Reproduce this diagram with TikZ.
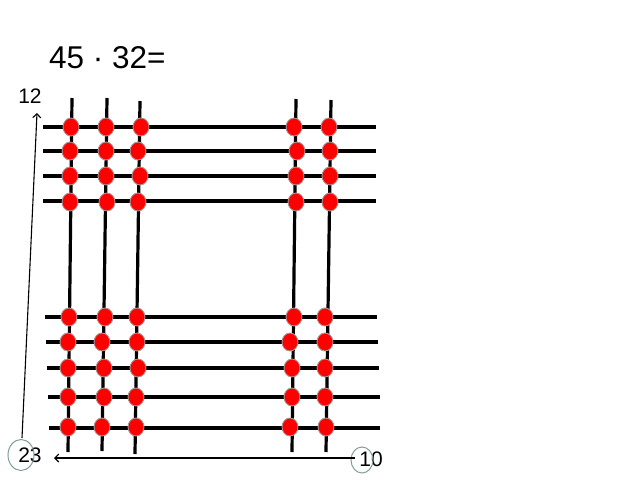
\documentclass[tikz,border=0pt]{standalone}
\usepackage{fontspec}
\setmainfont{Liberation Sans}
\usetikzlibrary{arrows.meta,shapes.geometric}
\definecolor{ringgray}{RGB}{130,155,155}
\definecolor{beadedge}{RGB}{170,150,150}
\begin{document}
\begin{tikzpicture}[x=1pt,y=-1pt,
  rod/.style={line width=3.2pt, black},
  bead/.style={ellipse, fill=red, draw=beadedge, line width=0.9pt, minimum width=16pt, minimum height=18pt, inner sep=0pt},
  axisarrow/.style={line width=1.1pt, -{Straight Barb[length=4pt,width=8pt]}},
  ring/.style={ellipse, draw=ringgray, line width=1pt, inner sep=0pt},
  lbl/.style={font=\fontsize{21}{21}\selectfont, inner sep=0pt}]
\useasboundingbox (0,0) rectangle (640,480);
% title
\node[font=\fontsize{31.5}{31.5}\selectfont, anchor=west, inner sep=0pt] (title) at (49,58) {45 · 32=};
% vertical rods
\foreach \n/\xt/\yt/\xb/\yb in {1/72/98/68/452, 2/107/98/102/451, 3/140/101/135/454, 4/296/99/292/452, 5/331/100/326/452}{
  \coordinate (vt\n) at (\xt,\yt);
  \coordinate (vb\n) at (\xb,\yb);
  \draw[rod] (vt\n) -- (vb\n);
}
% horizontal rods
\foreach \n/\xl/\y/\xr in {1/43/127/376, 2/43/151/376, 3/43/176/376, 4/43/201/376, 5/45/317/377, 6/46/342/378, 7/47/368/379, 8/48/397/380, 9/49/428/380}{
  \coordinate (hl\n) at (\xl,\y);
  \coordinate (hr\n) at (\xr,\y);
  \draw[rod] (hl\n) -- (hr\n);
}
% beads
\foreach \r/\y/\a/\b/\c/\d/\e in {1/127/71/106/141/294/329, 2/151/70/106/138/297/330, 3/176/70/106/140/296/330, 4/202/70/107/138/296/330, 5/317/69/105/137/294/325, 6/342/68/102/137/290/325, 7/368/68/104/138/292/325, 8/397/68/104/136/292/325, 9/427/68/102/136/290/326}{
  \node[bead] (b\r-1) at (\a,\y) {};
  \node[bead] (b\r-2) at (\b,\y) {};
  \node[bead] (b\r-3) at (\c,\y) {};
  \node[bead] (b\r-4) at (\d,\y) {};
  \node[bead] (b\r-5) at (\e,\y) {};
}
% labels
\node[lbl] (l12) at (30,96) {12};
\node[lbl] (l23) at (30,455) {23};
\node[lbl] (l10) at (371,459) {10};
\node[ring, minimum width=26pt, minimum height=31pt] (r23) at (21,455) {};
\node[ring, minimum width=22pt, minimum height=26pt] (r10) at (362,460) {};
% axes
\coordinate (ly0) at (22,438);
\coordinate (ly1) at (37,113);
\draw[axisarrow] (ly0) -- (ly1);
\coordinate (lx0) at (355,458);
\coordinate (lx1) at (54,458);
\draw[axisarrow] (lx0) -- (lx1);
\end{tikzpicture}
\end{document}
